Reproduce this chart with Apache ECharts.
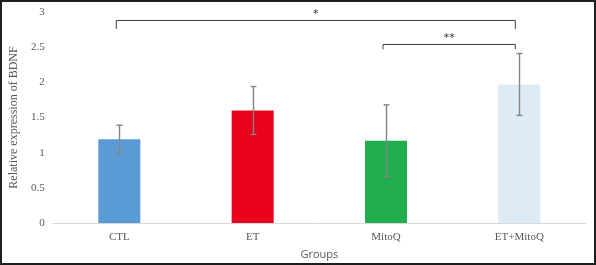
<!DOCTYPE html>
<html>
<head>
<meta charset="utf-8">
<script src="https://cdn.jsdelivr.net/npm/echarts@6/dist/echarts.min.js"></script>
<style>
  html, body { margin: 0; padding: 0; background: #fff; }
  #main { width: 596px; height: 265px; }
</style>
</head>
<body>
<div id="main"></div>
<script>
var groups = ['CTL', 'ET', 'MitoQ', 'ET+MitoQ'];
var means = [1.19, 1.60, 1.17, 1.97];
var errors = [0.20, 0.34, 0.51, 0.44];
var barColors = ['#5B9BD5', '#E8001D', '#22AD4F', '#DDEBF7'];
var yTicks = [0, 0.5, 1, 1.5, 2, 2.5, 3];

// significance brackets
var bracketFrom = [0, 2];
var bracketTo = [3, 3];
var bracketLevel = [2.89, 2.55];
var bracketDrop = [0.13, 0.08];
var bracketText = ['*', '**'];

var dom = document.getElementById('main');
var chart = echarts.init(dom, null, { renderer: 'canvas' });

var serif = '"Liberation Serif", "DejaVu Serif", serif';

var option = {
  animation: false,
  graphic: [{
    type: 'rect',
    shape: { x: 1, y: 1, width: 594, height: 263 },
    style: { fill: 'none', stroke: '#1e1e1e', lineWidth: 2 },
    z: 100
  }],
  grid: { left: 43, right: 10, top: 12, bottom: 42 },
  xAxis: {
    type: 'category',
    data: groups,
    name: 'Groups',
    nameLocation: 'middle',
    nameGap: 26,
    nameTextStyle: { fontFamily: '"Open Sans", sans-serif', fontSize: 11, color: '#595959' },
    axisLine: { lineStyle: { color: '#d9d9d9' } },
    axisTick: { show: false },
    axisLabel: { fontFamily: serif, fontSize: 11, color: '#595959', margin: 9 }
  },
  yAxis: {
    type: 'value',
    min: yTicks[0],
    max: yTicks[yTicks.length - 1],
    interval: 0.5,
    name: 'Relative expression of BDNF',
    nameLocation: 'middle',
    nameGap: 29,
    nameTextStyle: { fontFamily: serif, fontSize: 12, color: '#595959' },
    splitLine: { show: false },
    axisLine: { show: false },
    axisTick: { show: false },
    axisLabel: { fontFamily: serif, fontSize: 11, color: '#595959', margin: 8 }
  },
  series: [
    {
      type: 'bar',
      barWidth: 42,
      data: means.map(function (v, i) {
        return { value: v, itemStyle: { color: barColors[i] } };
      })
    },
    {
      type: 'custom',
      z: 5,
      data: means.map(function (v, i) { return [i, v - errors[i], v + errors[i]]; }),
      renderItem: function (params, api) {
        var lo = api.coord([api.value(0), api.value(1)]);
        var hi = api.coord([api.value(0), api.value(2)]);
        var x = Math.round(hi[0]) + 0.5;
        var style = { stroke: '#858585', lineWidth: 1.4 };
        return {
          type: 'group',
          children: [
            { type: 'line', shape: { x1: x, y1: hi[1], x2: x, y2: lo[1] }, style: style },
            { type: 'line', shape: { x1: x - 3, y1: hi[1], x2: x + 3, y2: hi[1] }, style: style },
            { type: 'line', shape: { x1: x - 3, y1: lo[1], x2: x + 3, y2: lo[1] }, style: style }
          ]
        };
      }
    },
    {
      type: 'custom',
      z: 6,
      data: bracketFrom.map(function (f, i) {
        return [f, bracketTo[i], bracketLevel[i], bracketDrop[i], i];
      }),
      renderItem: function (params, api) {
        var lvl = api.value(2);
        var drop = api.value(3);
        var a = api.coord([api.value(0), lvl]);
        var b = api.coord([api.value(1), lvl]);
        var ad = api.coord([api.value(0), lvl - drop]);
        var x1 = a[0] - 3, x2 = b[0] - 4;
        var y = Math.round(a[1]) + 0.5;
        var style = { stroke: '#404040', lineWidth: 1 };
        return {
          type: 'group',
          children: [
            { type: 'line', shape: { x1: x1, y1: y, x2: x2, y2: y }, style: style },
            { type: 'line', shape: { x1: x1, y1: y, x2: x1, y2: ad[1] }, style: style },
            { type: 'line', shape: { x1: x2, y1: y, x2: x2, y2: ad[1] }, style: style },
            {
              type: 'text',
              style: {
                x: (x1 + x2) / 2, y: y - 1,
                text: bracketText[api.value(4)],
                align: 'center', verticalAlign: 'bottom',
                fontFamily: '"DejaVu Sans", sans-serif', fontSize: 11,
                fill: '#333'
              }
            }
          ]
        };
      }
    }
  ]
};

chart.setOption(option);
window.addEventListener('resize', chart.resize);
</script>
</body>
</html>
